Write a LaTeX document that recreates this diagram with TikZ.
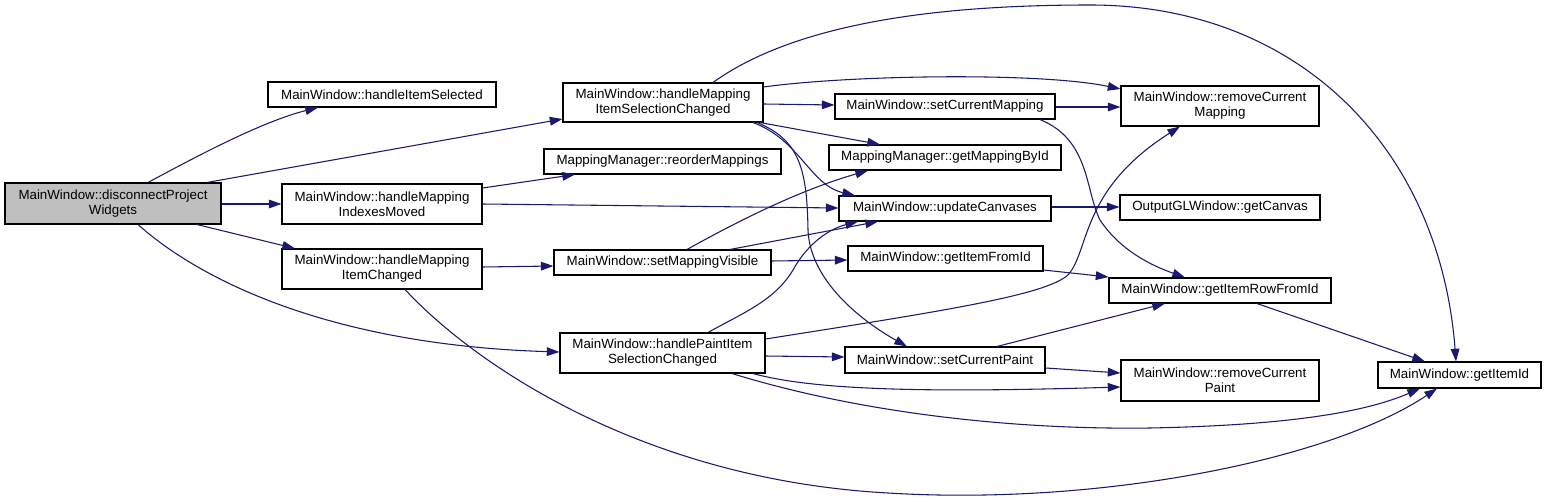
\documentclass[tikz,border=0pt]{standalone}
\usepackage{fontspec}
\setmainfont{Liberation Sans}
\usetikzlibrary{arrows.meta}
\definecolor{edgeblue}{HTML}{191970}
\definecolor{rootgray}{HTML}{BFBFBF}
\tikzset{
  box/.style={draw=black, line width=0.8pt, fill=white, inner sep=0pt, align=center,
    font=\fontsize{10}{11.3}\selectfont},
  wh/.style 2 args={minimum width=#1*0.75pt, minimum height=#2*0.75pt},
  edge/.style={draw=edgeblue, line width=0.8pt, -{Triangle[length=9.5pt,width=6.5pt]}},
}
\begin{document}
\begin{tikzpicture}[x=0.75pt, y=-0.75pt]
\useasboundingbox (0,0) rectangle (1547,499);
% nodes
\node[box, fill=rootgray, wh={216}{41}] (D) at (113,203.5) {MainWindow::disconnectProject\\Widgets};
\node[box, wh={228}{25}] (HIS) at (382,94.5) {MainWindow::handleItemSelected};
\node[box, wh={200}{39}] (HMISC) at (663,102.5) {MainWindow::handleMapping\\ItemSelectionChanged};
\node[box, wh={220}{25}] (SCM) at (945,106.5) {MainWindow::setCurrentMapping};
\node[box, wh={198}{40}] (RCM) at (1220,106) {MainWindow::removeCurrent\\Mapping};
\node[box, wh={237}{25}] (RM) at (662.5,161.5) {MappingManager::reorderMappings};
\node[box, wh={232}{25}] (GMB) at (945,157.5) {MappingManager::getMappingById};
\node[box, wh={200}{40}] (HMIM) at (382,204) {MainWindow::handleMapping\\IndexesMoved};
\node[box, wh={212}{25}] (UC) at (945,208.5) {MainWindow::updateCanvases};
\node[box, wh={200}{25}] (GC) at (1220,207.5) {OutputGLWindow::getCanvas};
\node[box, wh={200}{40}] (HMIC) at (382,269) {MainWindow::handleMapping\\ItemChanged};
\node[box, wh={217}{25}] (SMV) at (662.5,262.5) {MainWindow::setMappingVisible};
\node[box, wh={195}{25}] (GIF) at (945.5,258.5) {MainWindow::getItemFromId};
\node[box, wh={222}{25}] (GIR) at (1220,290.5) {MainWindow::getItemRowFromId};
\node[box, wh={205}{40}] (HPISC) at (662.5,353) {MainWindow::handlePaintItem\\SelectionChanged};
\node[box, wh={200}{26}] (SCP) at (945,360) {MainWindow::setCurrentPaint};
\node[box, wh={198}{41}] (RCP) at (1220,380.5) {MainWindow::removeCurrent\\Paint};
\node[box, wh={163}{26}] (GII) at (1459.5,375) {MainWindow::getItemId};
% edges
\draw[edge] (148,0 |- D.north) .. controls (190,160) and (260,122) .. (318,0 |- HIS.south);
\draw[edge] (207,0 |- D.north) -- (HMISC.west |- 0,119);
\draw[edge] (D.east |- 0,204) -- (HMIM.west |- 0,204);
\draw[edge] (197,0 |- D.south) -- (295,0 |- HMIC.north);
\draw[edge] (138,0 |- D.south) .. controls (200,280) and (330,345) .. (HPISC.west |- 0,352);
\draw[edge] (HMISC.east |- 0,87) .. controls (850,75) and (1040,72) .. (RCM.west |- 0,89);
\draw[edge] (HMISC.east |- 0,104) -- (SCM.west |- 0,105);
\draw[edge] (760,0 |- HMISC.south) -- (880,0 |- GMB.north);
\draw[edge] (753,0 |- HMISC.south) .. controls (800,140) and (810,185) .. (855,0 |- UC.north);
\draw[edge] (757,0 |- HMISC.south) .. controls (800,140) and (807,170) .. (808,230)
   .. controls (810,280) and (860,320) .. (907,0 |- SCP.north);
\draw[edge] (713,0 |- HMISC.north) .. controls (800,20) and (950,5) .. (1090,5)
   .. controls (1300,5) and (1440,150) .. (1456,0 |- GII.north);
\draw[edge] (HMIM.east |- 0,188) -- (575,0 |- RM.south);
\draw[edge] (HMIM.east |- 0,204) -- (UC.west |- 0,208);
\draw[edge] (HMIC.east |- 0,267) -- (SMV.west |- 0,266);
\draw[edge] (405,0 |- HMIC.south) .. controls (480,370) and (650,480) .. (888,493)
   .. controls (1100,506) and (1330,460) .. (1437,0 |- GII.south);
\draw[edge] (687,0 |- SMV.north) .. controls (740,220) and (800,190) .. (868,0 |- GMB.south);
\draw[edge] (730,0 |- SMV.north) -- (878,0 |- UC.south);
\draw[edge] (SMV.east |- 0,261) -- (GIF.west |- 0,260);
\draw[edge] (708,0 |- HPISC.north) .. controls (745,312) and (775,300) .. (793,270)
   .. controls (805,248) and (825,230) .. (858,0 |- UC.south);
\draw[edge] (HPISC.east |- 0,339) .. controls (950,310) and (1045,295) .. (1068,275)
   .. controls (1090,250) and (1080,190) .. (1180,0 |- RCM.south);
\draw[edge] (HPISC.east |- 0,356) -- (SCP.west |- 0,357);
\draw[edge] (753,0 |- HPISC.south) .. controls (820,392) and (950,392) .. (RCP.west |- 0,387);
\draw[edge] (732,0 |- HPISC.south) .. controls (850,410) and (1000,430) .. (1150,428)
   .. controls (1300,425) and (1370,410) .. (1420,0 |- GII.south);
\draw[edge] (SCM.east |- 0,107) -- (RCM.west |- 0,107);
\draw[edge] (1040,0 |- SCM.south) .. controls (1090,140) and (1085,190) .. (1100,220)
   .. controls (1120,250) and (1150,265) .. (1185,0 |- GIR.north);
\draw[edge] (UC.east |- 0,207) -- (GC.west |- 0,207);
\draw[edge] (GIF.east |- 0,270) -- (GIR.west |- 0,277);
\draw[edge] (997,0 |- SCP.north) -- (1165,0 |- GIR.south);
\draw[edge] (SCP.east |- 0,368) -- (RCP.west |- 0,373);
\draw[edge] (1257,0 |- GIR.south) -- (1425,0 |- GII.north);
\end{tikzpicture}
\end{document}
